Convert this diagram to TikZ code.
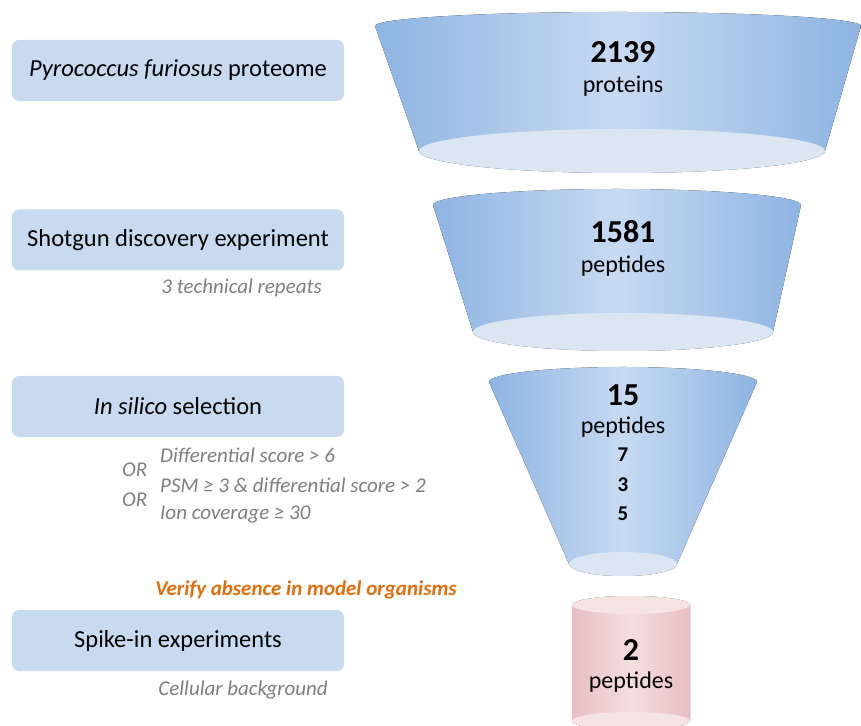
\documentclass[tikz,border=0pt]{standalone}
\usepackage{fontspec}
\setmainfont{Carlito}
\definecolor{boxfill}{HTML}{C8DAF0}
\definecolor{fedge}{HTML}{8EB4E2}
\definecolor{fmid}{HTML}{C7DAF1}
\definecolor{fbot}{HTML}{DCE6F2}
\definecolor{pedge}{HTML}{E8BEC1}
\definecolor{pmid}{HTML}{F4DEDF}
\definecolor{ptop}{HTML}{F6E4E5}
\definecolor{graytxt}{HTML}{7F7F7F}
\definecolor{orangetxt}{HTML}{E46C0A}
\begin{document}
\begin{tikzpicture}[x=1pt,y=1pt,
  stagebox/.style={rounded corners=7pt, fill=boxfill, minimum width=332pt, minimum height=61pt, inner sep=0pt, font=\fontsize{24.5}{28}\selectfont},
  funnelbody/.style={left color=fedge, right color=fedge, middle color=fmid},
  cylbody/.style={left color=pedge, right color=pedge, middle color=pmid},
  bignum/.style={font=\fontsize{32}{36}\selectfont\bfseries},
  unitlbl/.style={font=\fontsize{24}{28}\selectfont},
  smallnum/.style={font=\fontsize{21}{24}\selectfont\bfseries},
  note/.style={text=graytxt, font=\fontsize{21}{24}\selectfont\itshape, inner sep=0pt},
  crit/.style={text=graytxt, font=\fontsize{21}{24}\selectfont\itshape, inner sep=0pt, anchor=west}]
\useasboundingbox (0,0) rectangle (861,725);

% Funnel 1
\fill[funnelbody] (375,699) arc[start angle=180, end angle=0, x radius=243pt, y radius=14pt]
  -- (825,574) arc[start angle=0, end angle=-180, x radius=203pt, y radius=22pt] -- cycle;
\fill[fbot] (622,574) ellipse[x radius=203pt, y radius=22pt];
% Funnel 2
\fill[funnelbody] (433,520) arc[start angle=180, end angle=0, x radius=184pt, y radius=16pt]
  -- (773,393) arc[start angle=0, end angle=-180, x radius=150pt, y radius=19pt] -- cycle;
\fill[fbot] (623,393) ellipse[x radius=150pt, y radius=19pt];
% Funnel 3
\fill[funnelbody] (489,343) arc[start angle=180, end angle=0, x radius=134pt, y radius=15pt]
  -- (677,161) arc[start angle=0, end angle=-180, x radius=54pt, y radius=12pt] -- cycle;
\fill[fbot] (623,161) ellipse[x radius=54pt, y radius=12pt];
% Cylinder
\fill[cylbody] (572,120) arc[start angle=180, end angle=0, x radius=59pt, y radius=9pt]
  -- (690,4) arc[start angle=0, end angle=-180, x radius=59pt, y radius=9pt] -- cycle;
\fill[ptop] (631,120) ellipse[x radius=59pt, y radius=9pt];
\begin{scope}
\clip (0,0) rectangle (861,725);
\fill[ptop] (631,4) ellipse[x radius=59pt, y radius=9pt];
\end{scope}

% Stage boxes
\node[stagebox] (b1) at (178,654.5) {\textit{Pyrococcus furiosus} proteome};
\node[stagebox] (b2) at (178,485) {Shotgun discovery experiment};
\node[stagebox] (b3) at (178,318.5) {\textit{In silico} selection};
\node[stagebox] (b4) at (178,84.5) {Spike-in experiments};

% Notes
\node[note, anchor=east] (n2) at (322,437) {3 technical repeats};
\node[note, anchor=east] (n4) at (328,35) {Cellular background};
\node[crit] (c1) at (160,270) {Differential score > 6};
\node[crit] (c2) at (160,240) {PSM ≥ 3 \& differential score > 2};
\node[crit] (c3) at (160,211) {Ion coverage ≥ 30};
\node[crit] (or1) at (122,255) {OR};
\node[crit] (or2) at (122,225) {OR};
\node[text=orangetxt, font=\fontsize{21}{24}\selectfont\bfseries\itshape, inner sep=0pt] (v) at (306,135) {Verify absence in model organisms};

% Funnel labels
\node[bignum] (f1n) at (623,673) {2139};
\node[unitlbl] (f1u) at (623,639) {proteins};
\node[bignum] (f2n) at (623,493) {1581};
\node[unitlbl] (f2u) at (623,459) {peptides};
\node[bignum] (f3n) at (623,330) {15};
\node[unitlbl] (f3u) at (623,298) {peptides};
\node[smallnum] (k1) at (623,270) {7};
\node[smallnum] (k2) at (623,240) {3};
\node[smallnum] (k3) at (623,211) {5};
\node[bignum] (cn) at (631,75) {2};
\node[unitlbl] (cu) at (631,43) {peptides};
\end{tikzpicture}
\end{document}
